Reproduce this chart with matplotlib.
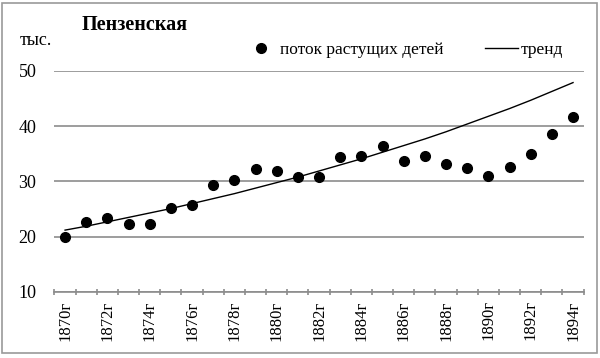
import matplotlib
matplotlib.use("Agg")
import matplotlib.pyplot as plt
from matplotlib.lines import Line2D
from matplotlib.patches import Rectangle

years = list(range(1870, 1895))
labels = [f"{y}г" for y in years]

# поток растущих детей, тыс.
children = [20.0, 22.7, 23.4, 22.3, 22.3, 25.2, 25.7, 29.4, 30.3, 32.3,
            31.9, 30.8, 30.8, 34.4, 34.6, 36.4, 33.7, 34.6, 33.2, 32.4,
            31.0, 32.6, 35.0, 38.6, 41.7]

# тренд
trend = [21.2, 21.9, 22.7, 23.5, 24.3, 25.1, 26.0, 26.9, 27.8, 28.8,
         29.8, 30.8, 31.9, 33.0, 34.1, 35.3, 36.5, 37.7, 39.0, 40.4,
         41.8, 43.2, 44.7, 46.3, 47.9]

plt.rcParams['font.family'] = ['Liberation Serif', 'DejaVu Serif']

fig = plt.figure(figsize=(6, 3.58), dpi=100)
fig.patches.append(Rectangle((0.004, 0.013), 0.991, 0.98, transform=fig.transFigure,
                             fill=False, edgecolor='#9a9a9a', lw=1.2))
ax = fig.add_axes([0.0908, 0.1844, 0.8819, 0.6173])

x = list(range(len(years)))
ax.plot(x, trend, color='black', lw=1.0, label='тренд', zorder=3)
ax.plot(x, children, 'o', color='black', ms=7, label='поток растущих детей', zorder=4)

ax.set_xlim(-0.5, len(years) - 0.5)
ax.set_ylim(10, 50)
ax.set_yticks([10, 20, 30, 40, 50])
ax.yaxis.grid(True, color='#8c8c8c', lw=1.2)
ax.set_axisbelow(True)
for s in ['top', 'right', 'left']:
    ax.spines[s].set_visible(False)
ax.spines['bottom'].set_color('#8c8c8c')
ax.spines['bottom'].set_linewidth(1.2)
ax.tick_params(axis='y', length=0, pad=13, labelsize=13)

ax.set_xticks(x[::2])
ax.set_xticklabels(labels[::2], rotation=90, fontsize=12)
ax.set_xticks([i - 0.5 for i in range(len(years) + 1)], minor=True)
ax.tick_params(axis='x', which='major', length=0, pad=6)
ax.tick_params(axis='x', which='minor', length=4, color='#8c8c8c', width=1.2, direction='inout')

fig.text(0.136, 0.93, 'Пензенская', fontsize=14.5, fontweight='bold', va='center', ha='left')
fig.text(0.033, 0.888, 'тыс.', fontsize=13, va='center', ha='left')

handles = [Line2D([], [], marker='o', ls='none', color='black', ms=7),
           Line2D([], [], color='black', lw=1.0)]
fig.legend(handles, ['поток растущих детей', 'тренд'], loc='center',
           bbox_to_anchor=(0.673, 0.86), ncol=2, frameon=False, fontsize=12.5,
           handlelength=1.9, columnspacing=2.4, handletextpad=0.15)

fig.savefig('out.png', dpi=100)
